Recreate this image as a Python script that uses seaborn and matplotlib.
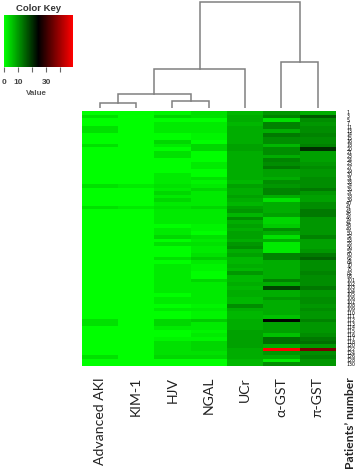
import numpy as np
import pandas as pd
import matplotlib
matplotlib.use("Agg")
import matplotlib.pyplot as plt
import seaborn as sns
from matplotlib.colors import LinearSegmentedColormap

columns = ["Advanced AKI", "KIM-1", "HJV", "NGAL", "UCr", "α-GST", "π-GST"]

# numeros dos pacientes (so da pra ler alguns)
patients = [1, 3, 5, 7, 11, 13, 14, 15, 16, 18, 20, 21, 23, 24, 25, 27, 29, 30, 31, 33,
            34, 35, 37, 38, 39, 40, 41, 43, 45, 46, 47, 48, 49, 50, 52, 53, 55, 56, 57, 60,
            62, 64, 70, 75, 82, 93, 101, 102, 103, 104, 105, 106, 107, 108, 109, 110, 111, 112, 113, 114,
            115, 116, 117, 118, 120, 122, 124, 126, 128, 130]

adv_aki = [0, 3, 0, 0, 3, 3, 0, 0, 0, 3, 0, 0, 0, 0, 0, 0, 0, 0, 0, 0,
           3, 0, 0, 0, 0, 0, 3, 0, 0, 0, 0, 0, 0, 0, 0, 0, 0, 0, 0, 0,
           0, 0, 0, 0, 0, 0, 0, 0, 0, 0, 0, 0, 0, 0, 0, 0, 0, 3, 3, 0,
           0, 0, 0, 0, 0, 0, 0, 3, 0, 0]
kim1 = [0, 0, 0, 0, 0, 0, 0, 0, 0, 0, 0, 0, 0, 0, 0, 0, 0, 0, 0, 0,
        2, 0, 0, 0, 0, 0, 2, 0, 0, 0, 0, 0, 0, 0, 0, 0, 0, 0, 0, 0,
        0, 0, 0, 0, 0, 0, 0, 0, 0, 0, 0, 0, 0, 0, 0, 0, 0, 0, 0, 0,
        0, 0, 0, 0, 0, 0, 0, 0, 0, 0]
hjv = [1, 4, 0, 2, 2, 2, 0, 0, 4, 2, 0, 3, 3, 0, 0, 0, 0, 2, 2, 2,
       3, 2, 4, 2, 4, 2, 3, 2, 2, 2, 2, 0, 2, 2, 4, 0, 3, 0, 0, 0,
       3, 0, 2, 2, 2, 2, 2, 2, 2, 2, 0, 2, 2, 0, 2, 0, 0, 4, 4, 2,
       0, 0, 1, 3, 3, 3, 3, 4, 0, 0]
ngal = [3, 3, 0, 2, 2, 2, 1, 1, 0, 4, 4, 0, 0, 0, 2, 2, 0, 0, 3, 1,
        2, 4, 2, 2, 2, 2, 4, 2, 2, 2, 2, 1, 1, 0, 3, 2, 3, 2, 2, 3,
        5, 2, 1, 1, 0, 0, 4, 2, 2, 2, 2, 2, 2, 1, 2, 1, 1, 5, 2, 2,
        1, 2, 1, 4, 4, 4, 3, 4, 0, 0]
ucr = [7, 8, 8, 7, 8, 8, 8, 8, 8, 9, 9, 8, 8, 8, 8, 8, 8, 8, 8, 7,
       9, 8, 8, 9, 8, 7, 9, 10, 7, 11, 8, 9, 8, 9, 9, 8, 10, 11, 8, 9,
       7, 7, 8, 7, 10, 7, 7, 8, 7, 8, 8, 7, 7, 11, 8, 7, 7, 8, 8, 8,
       9, 9, 9, 9, 9, 8, 8, 8, 7, 7]
a_gst = [10, 12, 3, 12, 12, 8, 13, 11, 11, 7, 11, 11, 8, 12, 11, 13, 9, 9, 8, 11,
         10, 12, 12, 8, 3, 8, 8, 8, 9, 4, 4, 5, 11, 8, 3, 8, 2, 2, 2, 12,
         12, 8, 8, 8, 8, 8, 12, 8, 18, 8, 8, 10, 8, 8, 8, 8, 6, 24, 9, 9,
         9, 6, 14, 14, 8, 49, 10, 8, 2, 11]
pi_gst = [8, 16, 11, 10, 11, 11, 12, 11, 11, 12, 20, 9, 9, 9, 10, 11, 10, 10, 11, 11,
          11, 13, 10, 9, 9, 11, 11, 13, 13, 10, 10, 10, 10, 10, 12, 9, 9, 9, 10, 13,
          15, 11, 11, 11, 12, 11, 11, 11, 13, 10, 10, 11, 11, 10, 11, 10, 10, 12, 10, 10,
          10, 11, 13, 14, 10, 36, 11, 12, 10, 10]

# dendrograma: (coluna esq, coluna dir, altura)
leaf_merges = [(0, 1, 5), (2, 3, 7.3), (5, 6, 46)]
node_merges = [(0.5, 2.5, 14), (1.5, 4, 39), (2.75, 5.5, 106.3)]
child_heights = {(0, 1): (0, 0), (2, 3): (0, 0), (5, 6): (0, 0),
                 (0.5, 2.5): (5, 7.3), (1.5, 4): (14, 0), (2.75, 5.5): (39, 46)}

key_ticks = [0, 10, 20, 30, 40]
key_labels = ["0", "10", "", "30", ""]

W, H = 358, 472
BODY = ["Lato", "DejaVu Sans"]
KEY_FONT = "Liberation Sans"


def px_axes(fig, x0, y0, x1, y1):
    return fig.add_axes([x0 / W, 1 - y1 / H, (x1 - x0) / W, (y1 - y0) / H])


def main():
    df = pd.DataFrame({"Advanced AKI": adv_aki, "KIM-1": kim1, "HJV": hjv, "NGAL": ngal,
                       "UCr": ucr, "α-GST": a_gst, "π-GST": pi_gst},
                      index=patients)[columns]
    cmap = LinearSegmentedColormap.from_list("gbr", ["#00ff00", "#000000", "#ff0000"])

    fig = plt.figure(figsize=(W / 100, H / 100), dpi=100)
    ax = px_axes(fig, 81.7, 111, 335.8, 366)
    key = px_axes(fig, 4, 15, 73, 67)

    sns.heatmap(df, ax=ax, cmap=cmap, vmin=0, vmax=49, cbar_ax=key,
                cbar_kws={"orientation": "horizontal"},
                xticklabels=False, yticklabels=False, rasterized=True)

    # nomes das colunas
    for i, name in enumerate(columns):
        ax.text(i + 0.5, 73.0, name, rotation=90, ha="center", va="top",
                fontsize=10.1, color="#222222", family=BODY, clip_on=False)
    ax.text(7.4, 73.0, "Patients’ number", rotation=90, ha="center", va="top",
            fontsize=8.7, fontweight="bold", color="#222222", family=BODY, clip_on=False)

    # numeros dos pacientes, bem pequenos
    for i, p in enumerate(patients):
        ax.text(7.0 + 10.5 / 36.3, i + 0.5, str(p), ha="left", va="center",
                fontsize=3.4, color="#000000", clip_on=False)

    # color key
    key.tick_params(axis="x", length=3.5, width=0.8, color="#666666", pad=5,
                    labelsize=6, labelcolor="#444444")
    key.set_xticks(key_ticks)
    key.set_xticklabels(key_labels, fontweight="bold", family=KEY_FONT)
    key.set_xlabel("Value", fontsize=5.8, fontweight="bold", color="#555555", family=KEY_FONT)
    key.xaxis.set_label_coords(0.47, -0.44)
    key.set_title("Color Key", fontsize=6.8, fontweight="bold", color="#333333",
                  family=KEY_FONT, pad=3)
    for s in key.spines.values():
        s.set_visible(False)

    # dendrograma
    den = px_axes(fig, 81.7, 0, 335.8, 108)
    den.set_xlim(0, 7)
    den.set_ylim(0, 108)
    den.axis("off")
    for left, right, h in leaf_merges + node_merges:
        h_l, h_r = child_heights[(left, right)]
        xs = [left + 0.5, left + 0.5, right + 0.5, right + 0.5]
        den.plot(xs, [h_l, h, h, h_r], color="#808080", lw=1.1, solid_joinstyle="miter")

    fig.savefig("out.png", dpi=100)
    plt.close(fig)


if __name__ == "__main__":
    main()
